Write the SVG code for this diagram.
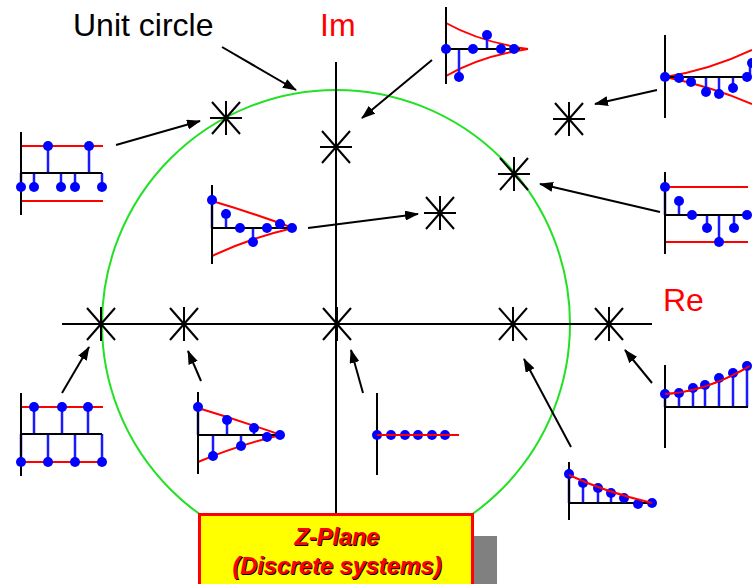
<svg xmlns="http://www.w3.org/2000/svg" width="752" height="584" viewBox="0 0 752 584">
<style>
.ax{stroke:#000;stroke-width:2;fill:none}
.st{stroke:#1a1aff;stroke-width:2.5;fill:none}
.rd{stroke:#ff0000;stroke-width:2;fill:none}
.dt circle{fill:#0000ff;r:5px}
.ar{stroke:#000;stroke-width:2;fill:none;marker-end:url(#ah)}
.lbl{font-family:"Liberation Sans",Arial,sans-serif;font-size:32px}
.bx{font-family:"Liberation Sans",Arial,sans-serif;font-size:23.5px;font-weight:bold;font-style:italic;text-anchor:middle}
</style>
<defs>
<marker id="ah" viewBox="0 0 14 10" refX="13" refY="5" markerWidth="14" markerHeight="10" markerUnits="userSpaceOnUse" orient="auto">
<path d="M0,0 L14,5 L0,10 Z" fill="#000"/>
</marker>
<g id="ast" stroke="#000" stroke-width="2">
<line x1="0" y1="-17" x2="0" y2="17"/>
<line x1="-14" y1="-16" x2="14" y2="16"/>
<line x1="14" y1="-16" x2="-14" y2="16"/>
<line x1="-16" y1="0" x2="16" y2="0"/>
</g>
</defs>
<rect width="752" height="584" fill="#fff"/>

<g id="unit-circle">
<circle cx="336" cy="324" r="234" fill="none" stroke="#22e022" stroke-width="2"/>
</g>
<g id="axes">
<line class="ax" x1="336" y1="62" x2="336" y2="520"/>
<line class="ax" x1="62" y1="324" x2="652" y2="324"/>
</g>
<g id="labels">
<text class="lbl" x="73" y="36" fill="#000">Unit circle</text>
<text class="lbl" x="320" y="36" fill="#ff0000">Im</text>
<text class="lbl" x="663" y="311" fill="#ff0000">Re</text>
</g>
<g id="poles">
<use href="#ast" x="226" y="118"/>
<use href="#ast" x="336" y="147"/>
<use href="#ast" x="569" y="119"/>
<use href="#ast" x="514" y="174"/>
<use href="#ast" x="440" y="213"/>
<use href="#ast" x="101" y="324"/>
<use href="#ast" x="184" y="324"/>
<use href="#ast" x="337" y="324"/>
<use href="#ast" x="513" y="324"/>
<use href="#ast" x="609" y="324"/>
</g>

<g id="connectors">
<line class="ar" x1="222" y1="47" x2="296" y2="90"/>
<line class="ar" x1="116" y1="145" x2="200" y2="121"/>
<line class="ar" x1="432" y1="60" x2="362" y2="118"/>
<line class="ar" x1="657" y1="90" x2="595" y2="104"/>
<line class="ar" x1="660" y1="212" x2="540" y2="184"/>
<line class="ar" x1="308" y1="228" x2="418" y2="214"/>
<line class="ar" x1="62" y1="393" x2="89" y2="347"/>
<line class="ar" x1="201" y1="381" x2="188" y2="351"/>
<line class="ar" x1="363" y1="393" x2="351" y2="350"/>
<line class="ar" x1="571" y1="447" x2="524" y2="359"/>
<line class="ar" x1="652" y1="383" x2="625" y2="350"/>
</g>

<g id="inset-top-left">
<line class="rd" x1="21" y1="146" x2="103" y2="146"/>
<line class="rd" x1="21" y1="201" x2="103" y2="201"/>
<path class="st" d="M21,173V187M34,173V187M48,173V146M61,173V187M75,173V187M89,173V146M102,173V187"/>
<line class="ax" x1="21" y1="132" x2="21" y2="215"/>
<line class="ax" x1="21" y1="173" x2="102" y2="173"/>
<g class="dt"><circle cx="21" cy="187" r="5"/><circle cx="34" cy="187" r="5"/><circle cx="48" cy="146" r="5"/><circle cx="61" cy="187" r="5"/><circle cx="75" cy="187" r="5"/><circle cx="89" cy="146" r="5"/><circle cx="102" cy="187" r="5"/></g>
</g>

<g id="inset-top-middle">
<path class="rd" d="M446,23 Q480,42 528,49"/>
<path class="rd" d="M446,76 Q480,56 528,49"/>
<path class="st" d="M459,49V77M487,49V35"/>
<line class="ax" x1="446" y1="7" x2="446" y2="84"/>
<line class="ax" x1="446" y1="49" x2="520" y2="49"/>
<g class="dt"><circle cx="446" cy="49" r="5"/><circle cx="459" cy="77" r="5"/><circle cx="473" cy="49" r="5"/><circle cx="487" cy="35" r="5"/><circle cx="501" cy="49" r="5"/><circle cx="514" cy="49" r="5"/></g>
</g>

<g id="inset-top-right">
<path class="rd" d="M665,77 Q710,70 752,50"/>
<path class="rd" d="M665,77 Q710,86 752,104"/>
<path class="st" d="M691,77V82M706,77V92M719,77V94M733,77V88M750,77V63"/>
<line class="ax" x1="665" y1="35" x2="665" y2="118"/>
<line class="ax" x1="665" y1="77" x2="748" y2="77"/>
<g class="dt"><circle cx="665" cy="77" r="5"/><circle cx="679" cy="78" r="5"/><circle cx="691" cy="82" r="5"/><circle cx="706" cy="92" r="5"/><circle cx="719" cy="94" r="5"/><circle cx="733" cy="88" r="5"/><circle cx="747" cy="77" r="5"/><circle cx="752" cy="63" r="5"/></g>
</g>

<g id="inset-right-middle">
<line class="rd" x1="665" y1="187" x2="748" y2="187"/>
<line class="rd" x1="665" y1="242" x2="748" y2="242"/>
<path class="st" d="M665,215V187M679,215V201M707,215V228M719,215V242M734,215V228"/>
<line class="ax" x1="665" y1="172" x2="665" y2="254"/>
<line class="ax" x1="665" y1="215" x2="747" y2="215"/>
<g class="dt"><circle cx="665" cy="187" r="5"/><circle cx="679" cy="201" r="5"/><circle cx="692" cy="215" r="5"/><circle cx="707" cy="228" r="5"/><circle cx="719" cy="242" r="5"/><circle cx="734" cy="228" r="5"/><circle cx="747" cy="215" r="5"/></g>
</g>

<g id="inset-center">
<path class="rd" d="M212,201 Q250,212 293,228"/>
<path class="rd" d="M212,256 Q250,238 293,228"/>
<path class="st" d="M212,228V200M226,228V214M253,228V242M280,228V223"/>
<line class="ax" x1="212" y1="185" x2="212" y2="264"/>
<line class="ax" x1="212" y1="228" x2="292" y2="228"/>
<g class="dt"><circle cx="212" cy="200" r="5"/><circle cx="226" cy="214" r="5"/><circle cx="240" cy="228" r="5"/><circle cx="253" cy="242" r="5"/><circle cx="267" cy="228" r="5"/><circle cx="280" cy="224" r="5"/><circle cx="292" cy="228" r="5"/></g>
</g>

<g id="inset-bottom-left">
<line class="rd" x1="21" y1="407" x2="103" y2="407"/>
<line class="rd" x1="21" y1="462" x2="103" y2="462"/>
<path class="st" d="M21,434V462M34,434V407M48,434V462M62,434V407M75,434V462M88,434V407M102,434V462"/>
<line class="ax" x1="21" y1="393" x2="21" y2="476"/>
<line class="ax" x1="21" y1="434" x2="102" y2="434"/>
<g class="dt"><circle cx="21" cy="462" r="5"/><circle cx="34" cy="407" r="5"/><circle cx="48" cy="462" r="5"/><circle cx="62" cy="407" r="5"/><circle cx="75" cy="462" r="5"/><circle cx="88" cy="407" r="5"/><circle cx="102" cy="462" r="5"/></g>
</g>

<g id="inset-bottom">
<path class="rd" d="M198,408 Q238,420 281,435"/>
<path class="rd" d="M198,462 Q238,445 281,435"/>
<path class="st" d="M198,435V407M213,435V456M227,435V420M241,435V446M254,435V428M267,435V437"/>
<line class="ax" x1="198" y1="392" x2="198" y2="474"/>
<line class="ax" x1="198" y1="435" x2="280" y2="435"/>
<g class="dt"><circle cx="198" cy="407" r="5"/><circle cx="213" cy="456" r="5"/><circle cx="227" cy="420" r="5"/><circle cx="241" cy="446" r="5"/><circle cx="254" cy="428" r="5"/><circle cx="267" cy="437" r="5"/><circle cx="280" cy="435" r="5"/></g>
</g>

<g id="inset-bottom-center">
<line class="ax" x1="377" y1="393" x2="377" y2="475"/>
<line class="rd" x1="377" y1="435" x2="459" y2="435"/>
<g class="dt"><circle cx="377" cy="435" r="5"/><circle cx="391" cy="435" r="5"/><circle cx="405" cy="435" r="5"/><circle cx="418" cy="435" r="5"/><circle cx="432" cy="435" r="5"/><circle cx="445" cy="435" r="5"/></g>
<line class="rd" x1="377" y1="435" x2="459" y2="435" stroke-width="1.5"/>
</g>

<g id="inset-right-bottom">
<path class="st" d="M665,407V394M679,407V393M693,407V388M705,407V385M719,407V378M733,407V373M747,407V366"/>
<path class="rd" d="M665,394 Q705,392 750,366"/>
<line class="ax" x1="665" y1="365" x2="665" y2="448"/>
<line class="ax" x1="665" y1="407" x2="748" y2="407"/>
<g class="dt"><circle cx="665" cy="394" r="5"/><circle cx="679" cy="393" r="5"/><circle cx="693" cy="388" r="5"/><circle cx="705" cy="385" r="5"/><circle cx="719" cy="378" r="5"/><circle cx="733" cy="373" r="5"/><circle cx="747" cy="366" r="5"/></g>
<path class="rd" d="M665,394 Q705,392 750,366" stroke-width="1.5"/>
</g>

<g id="inset-bottom-right">
<path class="st" d="M569,503V474M583,503V483M598,503V488M611,503V493M624,503V498"/>
<line class="ax" x1="569" y1="462" x2="569" y2="520"/>
<line class="ax" x1="569" y1="503" x2="653" y2="503"/>
<g class="dt"><circle cx="569" cy="474" r="5"/><circle cx="583" cy="483" r="5"/><circle cx="598" cy="488" r="5"/><circle cx="611" cy="493" r="5"/><circle cx="624" cy="498" r="5"/><circle cx="638" cy="504" r="5"/><circle cx="652" cy="503" r="5"/></g>
<path class="rd" d="M569,475 Q605,492 652,503" stroke-width="1.5"/>
</g>

<g id="title-box">
<rect x="222" y="536" width="275" height="60" fill="#808080"/>
<rect x="199.5" y="514.5" width="273" height="75" fill="#ffff00" stroke="#ff0000" stroke-width="3"/>
<text class="bx" x="338" y="546" fill="#000">Z-Plane</text>
<text class="bx" x="338" y="575" fill="#000">(Discrete systems)</text>
<text class="bx" x="337" y="545" fill="#ff0000">Z-Plane</text>
<text class="bx" x="337" y="574" fill="#ff0000">(Discrete systems)</text>
</g>
</svg>
